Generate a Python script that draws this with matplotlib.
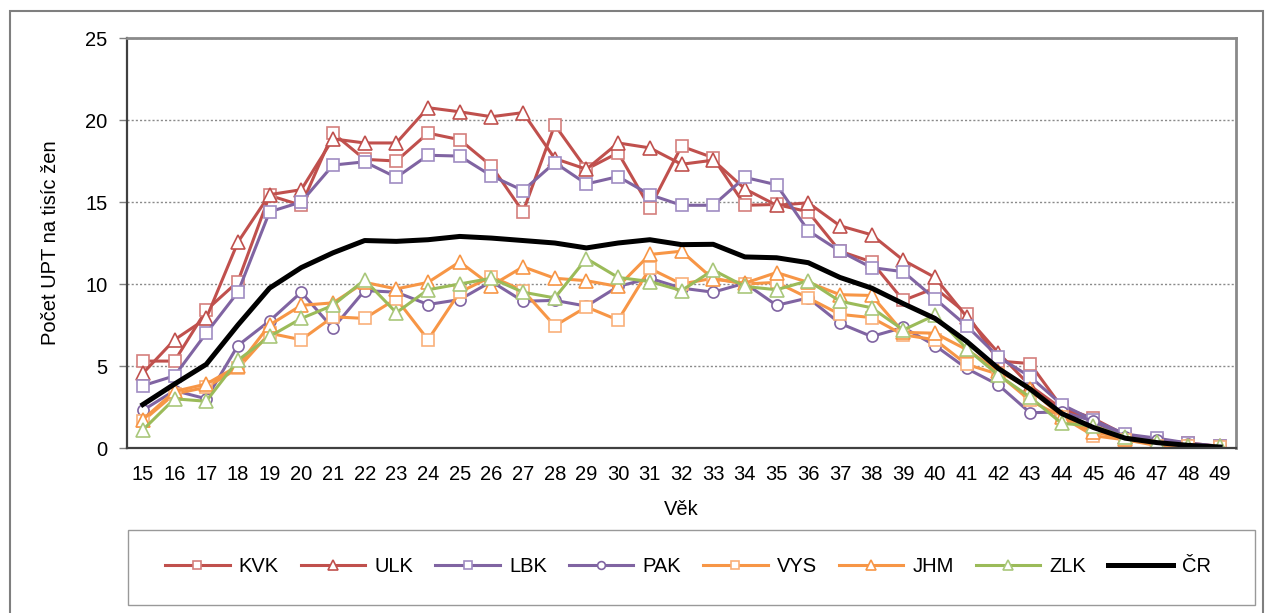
import matplotlib.pyplot as plt
from matplotlib.patches import Rectangle

plt.rcParams['font.family'] = ['Liberation Sans', 'DejaVu Sans']

ages = list(range(15, 50))

kvk = [5.3, 5.3, 8.4, 10.15, 15.4, 14.8, 19.2, 17.6, 17.5, 19.2, 18.8, 17.2, 14.4,
       19.7, 17.0, 18.0, 14.65, 18.4, 17.7, 14.8, 14.85, 14.4, 12.0, 11.35, 9.0,
       9.75, 8.2, 5.3, 5.15, 2.5, 1.8, 0.8, 0.5, 0.3, 0.1]
ulk = [4.55, 6.6, 7.9, 12.55, 15.45, 15.75, 18.85, 18.6, 18.6, 20.75, 20.5, 20.2,
       20.45, 17.65, 17.0, 18.6, 18.3, 17.3, 17.55, 15.8, 14.8, 14.95, 13.55, 13.0,
       11.45, 10.4, 8.0, 5.8, 3.8, 2.4, 1.6, 0.7, 0.4, 0.2, 0.1]
lbk = [3.8, 4.4, 7.0, 9.5, 14.4, 15.0, 17.25, 17.45, 16.5, 17.85, 17.8, 16.6, 15.7,
       17.4, 16.1, 16.55, 15.45, 14.8, 14.8, 16.5, 16.05, 13.25, 12.0, 11.0, 10.75,
       9.1, 7.45, 5.55, 4.35, 2.65, 1.7, 0.85, 0.6, 0.3, 0.1]
pak = [2.3, 3.5, 3.0, 6.25, 7.75, 9.5, 7.3, 9.6, 9.5, 8.75, 9.05, 10.15, 8.95,
       9.0, 8.65, 9.85, 10.35, 9.75, 9.5, 10.05, 8.7, 9.15, 7.6, 6.8, 7.35,
       6.25, 4.85, 3.85, 2.15, 2.2, 1.65, 0.7, 0.5, 0.25, 0.1]
vys = [1.65, 3.3, 3.7, 4.85, 7.0, 6.6, 8.0, 7.9, 9.1, 6.6, 9.5, 10.45, 9.6,
       7.45, 8.6, 7.8, 10.95, 10.0, 10.35, 10.0, 10.1, 9.15, 8.15, 7.95, 6.9,
       6.6, 5.1, 4.5, 2.9, 1.9, 0.75, 0.5, 0.15, 0.1, 0.05]
jhm = [1.73, 3.45, 3.9, 5.0, 7.5, 8.7, 8.85, 10.1, 9.7, 10.1, 11.35, 9.9, 11.05,
       10.35, 10.2, 9.85, 11.8, 12.0, 10.3, 10.05, 10.7, 10.1, 9.35, 9.3, 7.05,
       7.0, 6.0, 4.7, 3.6, 1.9, 1.0, 0.55, 0.25, 0.1, 0.05]
zlk = [1.1, 3.0, 2.85, 5.35, 6.8, 7.9, 8.7, 10.25, 8.25, 9.65, 10.0, 10.35, 9.5,
       9.15, 11.55, 10.4, 10.15, 9.6, 10.85, 9.85, 9.65, 10.2, 8.95, 8.55, 7.2,
       8.1, 6.05, 4.45, 3.1, 1.5, 1.35, 0.65, 0.35, 0.15, 0.1]
cr = [2.65, 3.9, 5.1, 7.5, 9.75, 11.0, 11.9, 12.65, 12.6, 12.7, 12.9, 12.8, 12.65,
      12.5, 12.2, 12.5, 12.7, 12.4, 12.42, 11.65, 11.6, 11.3, 10.4, 9.75, 8.8,
      7.9, 6.5, 4.85, 3.6, 2.1, 1.25, 0.6, 0.33, 0.16, 0.06]

# (label, values, line colour, marker, marker edge colour)
series = [
    ("KVK", kvk, "#C0504D", "s", "#D47F7D"),
    ("ULK", ulk, "#C0504D", "^", "#C0504D"),
    ("LBK", lbk, "#8064A2", "s", "#A08CC2"),
    ("PAK", pak, "#8064A2", "o", "#8064A2"),
    ("VYS", vys, "#F79646", "s", "#F9B07A"),
    ("JHM", jhm, "#F79646", "^", "#F79646"),
    ("ZLK", zlk, "#9BBB59", "^", "#A9C77A"),
]

W, H = 1273, 613
FS = 14.5
fig = plt.figure(figsize=(W / 100, H / 100), dpi=100)
ax = fig.add_axes([127 / W, 165 / H, 1109 / W, 410 / H])

for label, vals, col, mk, edge in series:
    ms = 9.5 if mk == "^" else 8
    ax.plot(ages, vals, color=col, lw=2.2, marker=mk, markersize=ms,
            markerfacecolor="white", markeredgecolor=edge, markeredgewidth=1.2,
            label=label)
ax.plot(ages, cr, color="black", lw=3.6, label="ČR")

ax.set_xlim(14.5, 49.5)
ax.set_ylim(0, 25)
ax.set_xticks(ages)
ax.set_xticklabels([str(a) for a in ages])
ax.set_yticks([0, 5, 10, 15, 20, 25])
ax.tick_params(axis="x", length=0, pad=12, labelsize=FS)
ax.tick_params(axis="y", length=6, width=1, color="#808080", pad=8, labelsize=FS)

ax.yaxis.grid(True, linestyle=(0, (1.5, 1.5)), color="#8a8a8a", lw=1)
ax.set_axisbelow(True)

for side in ("left", "bottom"):
    ax.spines[side].set_color("#404040")
    ax.spines[side].set_linewidth(1.6)
for side in ("top", "right"):
    ax.spines[side].set_color("#8a8a8a")
    ax.spines[side].set_linewidth(2)

ax.set_xlabel("Věk", fontsize=FS, labelpad=12)
ax.set_ylabel("Počet UPT na tisíc žen", fontsize=FS, labelpad=18)

# outer chart border
fig.add_artist(Rectangle((10 / W, -0.05), 1253 / W, (H - 11) / H + 0.05,
                         transform=fig.transFigure, fill=False,
                         edgecolor="#7f7f7f", lw=1.5))
# legend box
fig.add_artist(Rectangle((128 / W, 8 / H), 1127 / W, 75 / H,
                         transform=fig.transFigure, fill=False,
                         edgecolor="#999999", lw=1))
fig.legend(loc="center", bbox_to_anchor=(688 / W, 46 / H), ncol=8,
           frameon=False, fontsize=FS, handlelength=3.2,
           handletextpad=0.45, columnspacing=1.1, markerscale=0.7)

fig.savefig("out.png", dpi=100)
